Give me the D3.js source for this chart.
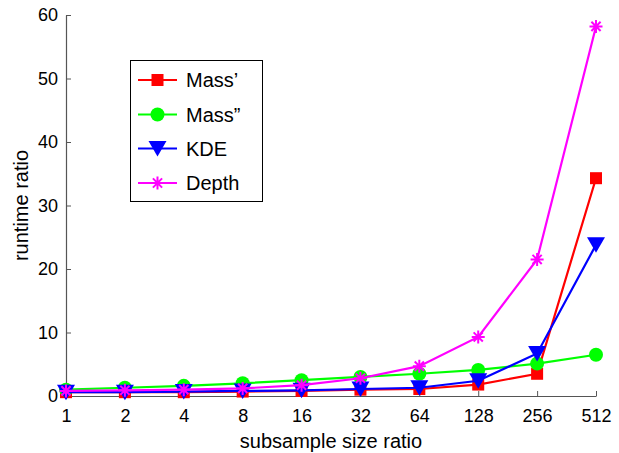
<!DOCTYPE html>
<html>
<head>
<meta charset="utf-8">
<script src="https://cdn.jsdelivr.net/npm/d3@7"></script>
<style>
  html, body { margin: 0; padding: 0; background: #fff; }
  svg { display: block; font-family: "Liberation Sans", Arial, Helvetica, sans-serif; }
</style>
</head>
<body>
<div id="chart"></div>
<script>
// ---- data ----
const categories = ["1", "2", "4", "8", "16", "32", "64", "128", "256", "512"];
const massPrime  = [0.6, 0.6, 0.6, 0.7, 0.8, 1.0, 1.1, 1.8, 3.5, 34.3];
const massDouble = [1.0, 1.3, 1.6, 2.0, 2.5, 3.0, 3.5, 4.1, 5.1, 6.5];
const kde        = [0.6, 0.6, 0.7, 0.8, 0.9, 1.1, 1.3, 2.4, 6.7, 23.8];
const depth      = [0.8, 0.9, 1.0, 1.2, 1.7, 2.8, 4.7, 9.3, 21.5, 58.2];
const yTicks = [0, 10, 20, 30, 40, 50, 60];
const seriesNames = ["Mass\u2019", "Mass\u201D", "KDE", "Depth"];

const series = [
  { name: seriesNames[0], values: massPrime,  color: "#ff0000", marker: "square" },
  { name: seriesNames[1], values: massDouble, color: "#00ff00", marker: "circle" },
  { name: seriesNames[2], values: kde,        color: "#0000ff", marker: "triangle" },
  { name: seriesNames[3], values: depth,      color: "#ff00ff", marker: "asterisk" }
];

const W = 619, H = 453;
const svg = d3.select("#chart").append("svg").attr("width", W).attr("height", H);

const x = d3.scalePoint().domain(categories).range([66, 596]).padding(0);
const y = d3.scaleLinear().domain([0, 60]).range([396, 15]);

const axisColor = "#555";

// axes
const gx = svg.append("g").attr("transform", `translate(0,${y(0)})`)
  .call(d3.axisBottom(x).tickSizeInner(-5).tickSizeOuter(0).tickPadding(13));
const gy = svg.append("g").attr("transform", `translate(${x(categories[0])},0)`)
  .call(d3.axisLeft(y).tickValues(yTicks).tickSizeInner(-5).tickSizeOuter(0).tickPadding(8));
[gx, gy].forEach(g => {
  g.select(".domain").attr("stroke", axisColor).attr("stroke-width", 1.2);
  g.selectAll(".tick line").attr("stroke", axisColor).attr("stroke-width", 1);
  g.selectAll(".tick text").attr("fill", "#000").style("font-size", "18px")
    .style("font-family", '"Liberation Sans", Arial, Helvetica, sans-serif');
});

// axis labels
svg.append("text").attr("x", 331).attr("y", 448).attr("text-anchor", "middle")
  .style("font-size", "20px").text("subsample size ratio");
svg.append("text").attr("transform", `translate(28,${(y(0) + y(60)) / 2}) rotate(-90)`)
  .attr("text-anchor", "middle").style("font-size", "20px").text("runtime ratio");

function drawMarker(g, type, color) {
  if (type === "square") {
    g.append("rect").attr("x", -6).attr("y", -6).attr("width", 12).attr("height", 12).attr("fill", color);
  } else if (type === "circle") {
    g.append("circle").attr("r", 7).attr("fill", color);
  } else if (type === "triangle") {
    g.append("path").attr("d", "M-9,-7.5L9,-7.5L0,8Z").attr("fill", color);
  } else if (type === "asterisk") {
    g.append("path").attr("d", "M-6.5,0H6.5M0,-6.5V6.5M-4.6,-4.6L4.6,4.6M-4.6,4.6L4.6,-4.6")
      .attr("stroke", color).attr("stroke-width", 2).attr("fill", "none");
  }
}

const line = d3.line().x((d, i) => x(categories[i])).y(d => y(d));

series.forEach(s => {
  const g = svg.append("g");
  g.append("path").attr("d", line(s.values)).attr("fill", "none")
    .attr("stroke", s.color).attr("stroke-width", 2.2);
  s.values.forEach((v, i) => {
    const m = g.append("g").attr("transform", `translate(${x(categories[i])},${y(v)})`);
    drawMarker(m, s.marker, s.color);
  });
});

// legend
const lg = svg.append("g");
lg.append("rect").attr("x", 130.5).attr("y", 60.5).attr("width", 132).attr("height", 141)
  .attr("fill", "#fff").attr("stroke", "#000").attr("stroke-width", 1);
const rowY = [80, 114.5, 148.5, 183];
series.forEach((s, i) => {
  const r = lg.append("g").attr("transform", `translate(0,${rowY[i]})`);
  r.append("line").attr("x1", 138).attr("x2", 177).attr("y1", 0).attr("y2", 0)
    .attr("stroke", s.color).attr("stroke-width", 2.2);
  const m = r.append("g").attr("transform", "translate(157.5,0)");
  drawMarker(m, s.marker, s.color);
  r.append("text").attr("x", 186).attr("y", 0).attr("dy", "0.36em")
    .style("font-size", "20px").text(s.name);
});
</script>
</body>
</html>
